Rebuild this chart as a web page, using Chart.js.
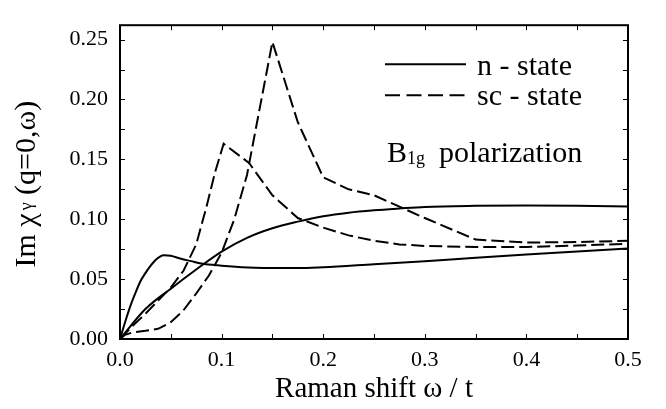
<!DOCTYPE html>
<html lang="en">
<head>
<meta charset="UTF-8">
<title>Raman response, B1g polarization</title>
<script src="https://cdn.jsdelivr.net/npm/chart.js"></script>
<style>
  html, body { margin: 0; padding: 0; background: #fff; }
  canvas { display: block; }
</style>
</head>
<body>
<canvas id="raman" width="666" height="409"></canvas>
<script>
// n-state, curve with the low-energy bump
const nBumpX = [0, 0.005, 0.01, 0.015, 0.02, 0.025, 0.03, 0.035, 0.043, 0.05, 0.06, 0.07, 0.08, 0.1, 0.12, 0.15, 0.175, 0.2, 0.25, 0.3, 0.35, 0.4, 0.45, 0.5];
const nBumpY = [0, 0.014, 0.027, 0.038, 0.048, 0.055, 0.061, 0.066, 0.070, 0.0695, 0.067, 0.065, 0.063, 0.0612, 0.060, 0.0593, 0.0592, 0.060, 0.0625, 0.065, 0.0678, 0.0705, 0.073, 0.0755];

// n-state, nearly linear curve
const nRiseX = [0, 0.025, 0.05, 0.075, 0.1, 0.125, 0.15, 0.175, 0.2, 0.225, 0.25, 0.275, 0.3, 0.35, 0.4, 0.45, 0.5];
const nRiseY = [0, 0.025, 0.042, 0.058, 0.073, 0.0845, 0.0925, 0.098, 0.1025, 0.1055, 0.1075, 0.109, 0.1103, 0.1112, 0.1115, 0.1112, 0.1106];

// sc-state, peak near 0.1
const scLowX = [0, 0.0125, 0.025, 0.0375, 0.05, 0.0625, 0.075, 0.085, 0.0935, 0.102, 0.127, 0.15, 0.175, 0.2, 0.225, 0.25, 0.275, 0.3, 0.35, 0.4, 0.45, 0.5];
const scLowY = [0, 0.011, 0.021, 0.032, 0.043, 0.057, 0.079, 0.11, 0.139, 0.163, 0.147, 0.12, 0.101, 0.093, 0.0865, 0.082, 0.079, 0.0777, 0.0768, 0.0768, 0.078, 0.0795];

// sc-state, peak at 0.15
const scHighX = [0, 0.005, 0.0125, 0.025, 0.0375, 0.05, 0.0625, 0.075, 0.0875, 0.1, 0.1125, 0.125, 0.15, 0.175, 0.2, 0.225, 0.25, 0.3, 0.35, 0.4, 0.45, 0.5];
const scHighY = [0, 0.0035, 0.0055, 0.0068, 0.0085, 0.014, 0.024, 0.038, 0.053, 0.072, 0.1, 0.137, 0.248, 0.181, 0.135, 0.125, 0.12, 0.101, 0.083, 0.0805, 0.081, 0.082];

// tick positions (labels only on every second one)
const xTicks = [0, 0.05, 0.1, 0.15, 0.2, 0.25, 0.3, 0.35, 0.4, 0.45, 0.5];
const yTicks = [0, 0.025, 0.05, 0.075, 0.1, 0.125, 0.15, 0.175, 0.2, 0.225, 0.25];

const legendLabels = ['n - state', 'sc - state'];
const noteMain = 'B';
const noteSub = '1g';
const noteRest = 'polarization';

const SERIF = "'Liberation Serif', 'DejaVu Serif', serif";
const DASH = [13, 5];

function pts(xs, ys) {
  return xs.map((x, i) => ({ x: x, y: ys[i] }));
}

// frame, inward ticks on all four sides, legend, note and y title
const decorations = {
  id: 'decorations',
  afterDraw(chart) {
    const { ctx, chartArea: a, scales } = chart;
    ctx.save();
    ctx.strokeStyle = '#000';
    ctx.lineWidth = 1;
    ctx.setLineDash([]);
    ctx.beginPath();
    scales.x.ticks.forEach(t => {
      const px = Math.round(scales.x.getPixelForValue(t.value)) + 0.5;
      ctx.moveTo(px, a.bottom); ctx.lineTo(px, a.bottom - 5);
      ctx.moveTo(px, a.top); ctx.lineTo(px, a.top + 5);
    });
    scales.y.ticks.forEach(t => {
      const py = Math.round(scales.y.getPixelForValue(t.value)) + 0.5;
      ctx.moveTo(a.left, py); ctx.lineTo(a.left + 5, py);
      ctx.moveTo(a.right, py); ctx.lineTo(a.right - 5, py);
    });
    ctx.stroke();

    ctx.lineWidth = 2;
    ctx.strokeRect(a.left, a.top, a.right - a.left, a.bottom - a.top);

    // legend
    const lx0 = a.right - 243, lx1 = a.right - 162;
    ctx.lineWidth = 2;
    ctx.beginPath();
    ctx.moveTo(lx0, a.top + 39); ctx.lineTo(lx1, a.top + 39);
    ctx.stroke();
    ctx.setLineDash([15, 6.5]);
    ctx.beginPath();
    ctx.moveTo(lx0, a.top + 70); ctx.lineTo(lx1 + 2, a.top + 70);
    ctx.stroke();
    ctx.setLineDash([]);

    ctx.fillStyle = '#000';
    ctx.textAlign = 'left';
    ctx.textBaseline = 'alphabetic';
    ctx.font = '30px ' + SERIF;
    ctx.fillText(legendLabels[0], a.right - 151, a.top + 50);
    ctx.fillText(legendLabels[1], a.right - 151, a.top + 80);

    // B1g polarization
    let nx = a.right - 241;
    const nb = a.top + 137;
    ctx.font = '30px ' + SERIF;
    ctx.fillText(noteMain, nx, nb);
    nx += ctx.measureText(noteMain).width;
    ctx.font = '18px ' + SERIF;
    ctx.fillText(noteSub, nx, nb + 2);
    nx += ctx.measureText(noteSub).width + 14;
    ctx.font = '30px ' + SERIF;
    ctx.fillText(noteRest, nx, nb);

    // y axis title with subscript gamma
    const parts = [
      { t: 'Im χ', f: '30px ', dy: 0 },
      { t: 'γ', f: '18px ', dy: -3 },
      { t: ' (q=0,ω)', f: '30px ', dy: 0 }
    ];
    let total = 0;
    parts.forEach(p => { ctx.font = p.f + SERIF; p.w = ctx.measureText(p.t).width; total += p.w + (p.t === 'γ' ? 3 : 0); });
    ctx.translate(35, (a.top + a.bottom) / 2 + 2);
    ctx.rotate(-Math.PI / 2);
    let tx = -total / 2;
    parts.forEach(p => {
      ctx.font = p.f + SERIF;
      if (p.t === 'γ') tx += 3;
      ctx.fillText(p.t, tx, p.dy);
      tx += p.w;
    });
    ctx.restore();
  }
};

new Chart(document.getElementById('raman'), {
  type: 'line',
  data: {
    datasets: [
      { label: legendLabels[0], data: pts(nBumpX, nBumpY), borderColor: '#000', borderWidth: 2, pointRadius: 0, cubicInterpolationMode: 'monotone', fill: false },
      { label: legendLabels[0], data: pts(nRiseX, nRiseY), borderColor: '#000', borderWidth: 2, pointRadius: 0, cubicInterpolationMode: 'monotone', fill: false },
      { label: legendLabels[1], data: pts(scLowX, scLowY), borderColor: '#000', borderWidth: 2, borderDash: DASH, pointRadius: 0, tension: 0, fill: false },
      { label: legendLabels[1], data: pts(scHighX, scHighY), borderColor: '#000', borderWidth: 2, borderDash: DASH, pointRadius: 0, tension: 0, fill: false }
    ]
  },
  options: {
    responsive: false,
    animation: false,
    layout: { padding: { left: 0, right: 38, top: 2, bottom: 0 } },
    plugins: { legend: { display: false }, tooltip: { enabled: false } },
    scales: {
      x: {
        type: 'linear',
        min: 0,
        max: 0.5,
        grid: { display: false, drawTicks: false },
        border: { display: false },
        afterBuildTicks: s => { s.ticks = xTicks.map(v => ({ value: v })); },
        ticks: {
          autoSkip: false,
          maxRotation: 0,
          padding: 8,
          color: '#000',
          font: { family: SERIF, size: 22 },
          callback: v => {
            const r = Math.round(v * 100);
            return r % 10 === 0 ? (r / 100).toFixed(1) : '';
          }
        },
        title: {
          display: true,
          text: 'Raman shift ω / t',
          color: '#000',
          font: { family: SERIF, size: 29 },
          padding: { top: 0, bottom: 2 }
        },
        afterFit: s => { s.height = 70; }
      },
      y: {
        min: 0,
        max: 0.262,
        grid: { display: false, drawTicks: false },
        border: { display: false },
        afterBuildTicks: s => { s.ticks = yTicks.map(v => ({ value: v })); },
        ticks: {
          autoSkip: false,
          padding: 12,
          color: '#000',
          font: { family: SERIF, size: 22 },
          callback: v => {
            const r = Math.round(v * 1000);
            return r % 50 === 0 ? (r / 1000).toFixed(2) : '';
          }
        },
        afterFit: s => { s.width = 120; }
      }
    }
  },
  plugins: [decorations]
});
</script>
</body>
</html>
